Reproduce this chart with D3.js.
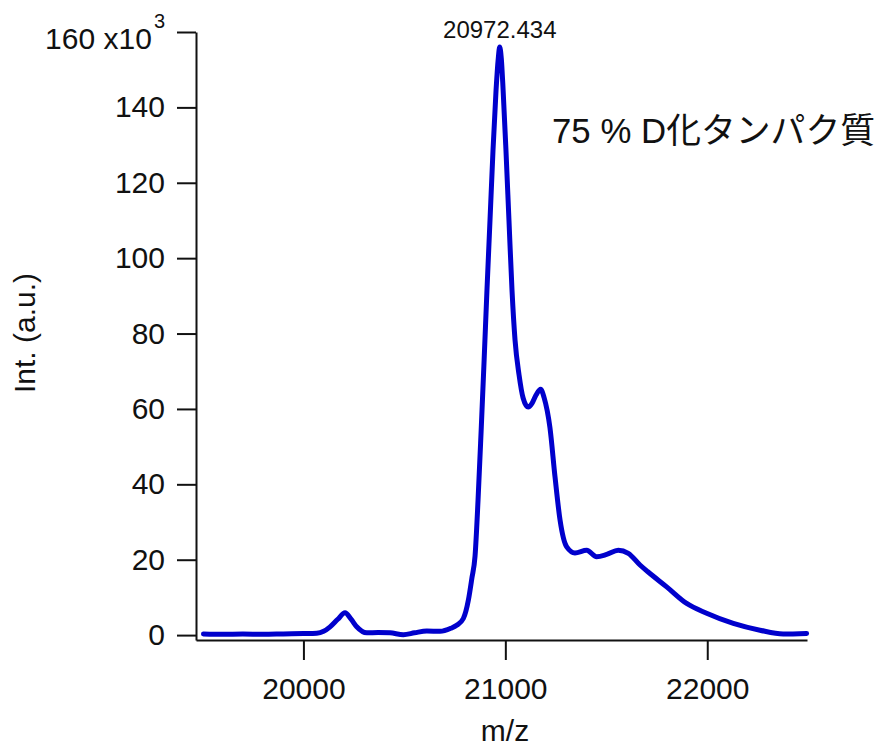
<!DOCTYPE html>
<html>
<head>
<meta charset="utf-8">
<script src="https://cdn.jsdelivr.net/npm/d3@7"></script>
<style>
  html, body { margin: 0; padding: 0; background: #fff; }
  svg text { font-family: "Liberation Sans", Arial, "Noto Sans CJK JP", sans-serif; fill: #111; }
</style>
</head>
<body>
<svg id="chart" width="881" height="746"></svg>
<script>
// ---- data (m/z, intensity in units of 10^3) ----
const mz = [19505, 19600, 19700, 19800, 19900, 20000, 20066, 20100, 20132, 20170,
  20206, 20235, 20264, 20314, 20370, 20429, 20495, 20550, 20611, 20677,
  20730, 20759, 20792, 20817, 20834, 20850, 20865, 20880, 20895, 20909,
  20924, 20939, 20954, 20965, 20972, 20980, 20989, 21003, 21018, 21033,
  21048, 21068, 21088, 21113, 21132, 21152, 21175, 21192, 21221, 21246,
  21271, 21304, 21345, 21403, 21452, 21502, 21559, 21609, 21667, 21706,
  21799, 21898, 21997, 22129, 22261, 22376, 22492];
const intensity = [0.3, 0.2, 0.3, 0.2, 0.3, 0.4, 0.5, 1.0, 2.2, 4.2,
  5.9, 4.3, 2.2, 0.6, 0.7, 0.6, 0.1, 0.6, 1.1, 1.0,
  1.8, 2.6, 4.4, 9.3, 15, 21, 36, 54, 73, 91.5,
  110, 128.7, 144.6, 153, 156, 153, 144.6, 128.7, 110, 91.5,
  78.3, 69, 62.9, 60.5, 61.5, 63.7, 65.2, 63, 55, 42,
  30.5, 23.4, 21.8, 22.5, 20.8, 21.4, 22.5, 21.7, 18.6, 16.8,
  12.8, 8.4, 5.8, 3.1, 1.3, 0.3, 0.45];
const xTicks = [20000, 21000, 22000];
const yTicks = [0, 20, 40, 60, 80, 100, 120, 140, 160];
const xDomain = [19468, 22494];
const yDomain = [-1.3, 160];
const peakLabel = "20972.434";
const peakMz = 20972.434;
const xTitle = "m/z";
const yTitle = "Int. (a.u.)";
const chartTitle = "75 % D化タンパク質";

const svg = d3.select("#chart");
const x = d3.scaleLinear().domain(xDomain).range([196, 807]);
const y = d3.scaleLinear().domain(yDomain).range([640, 32]);

// x axis
const gx = svg.append("g").attr("transform", "translate(0,640)")
  .call(d3.axisBottom(x).tickValues(xTicks).tickFormat(d3.format("d"))
        .tickSize(20).tickSizeOuter(0).tickPadding(18));
// y axis
const gy = svg.append("g").attr("transform", "translate(196,0)")
  .call(d3.axisLeft(y).tickValues(yTicks).tickFormat(d => d === 160 ? "" : d)
        .tickSize(19).tickSizeOuter(0).tickPadding(12));

[gx, gy].forEach(g => {
  g.selectAll("path.domain, line").attr("stroke", "#111").attr("stroke-width", 2);
  g.selectAll("text").attr("font-size", 30).attr("font-family", null).attr("fill", "#111");
});

// top y label with exponent
const topTick = gy.selectAll(".tick").filter(d => d === 160).select("text");
topTick.attr("dy", null).attr("y", 16);
topTick.append("tspan").text("160 x10");
topTick.append("tspan").text("3").attr("font-size", 20).attr("dx", 2).attr("dy", -21);

// line
const data = mz.map((m, i) => ({ m, v: intensity[i] }));
const line = d3.line().x(d => x(d.m)).y(d => y(d.v)).curve(d3.curveMonotoneX);
svg.append("path").datum(data)
  .attr("d", line)
  .attr("fill", "none")
  .attr("stroke", "#0000cc")
  .attr("stroke-width", 5)
  .attr("stroke-linejoin", "round")
  .attr("stroke-linecap", "round");

// peak label
svg.append("text").attr("x", x(peakMz)).attr("y", 38)
  .attr("text-anchor", "middle").attr("font-size", 24).text(peakLabel);

// axis titles
svg.append("text").attr("x", 505).attr("y", 741)
  .attr("text-anchor", "middle").attr("font-size", 30).text(xTitle);
svg.append("text").attr("transform", "translate(35,333) rotate(-90)")
  .attr("text-anchor", "middle").attr("font-size", 30).text(yTitle);

// chart title
svg.append("text").attr("x", 552).attr("y", 143)
  .attr("font-size", 35)
  .attr("textLength", 323).attr("lengthAdjust", "spacingAndGlyphs")
  .text(chartTitle);
</script>
</body>
</html>
